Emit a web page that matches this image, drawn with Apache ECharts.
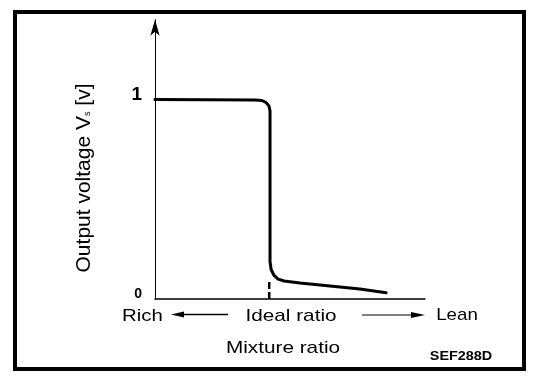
<!DOCTYPE html>
<html>
<head>
<meta charset="utf-8">
<script src="https://cdn.jsdelivr.net/npm/echarts@6/dist/echarts.min.js"></script>
<style>html,body{margin:0;padding:0;background:#fff;}#c{width:560px;height:380px;}</style>
</head>
<body>
<div id="c"></div>
<script>
// Mixture ratio (arbitrary 0..100 across axis) vs output voltage [V]
var curveX = [0, 37.0, 39.6, 41.1, 42.2, 42.6, 42.6, 43.0, 44.1, 45.6, 47.8, 53.7, 64.8, 75.9, 85.6];
var curveY = [1.0, 0.998, 0.995, 0.985, 0.968, 0.943, 0.188, 0.148, 0.118, 0.10, 0.09, 0.08, 0.065, 0.05, 0.031];
var idealX = [42.3, 42.3];
var idealY = [0, 0.095];
var yTicks = [0, 1];

var curve = curveX.map(function (x, i) { return [x, curveY[i]]; });
var ideal = idealX.map(function (x, i) { return [x, idealY[i]]; });
var FONT = '"Liberation Sans", Arial, sans-serif';

var chart = echarts.init(document.getElementById('c'), null, {renderer: 'canvas'});
chart.setOption({
  backgroundColor: '#fff',
  animation: false,
  grid: {left: 155, right: 135, top: 19.7, bottom: 81},
  xAxis: {
    type: 'value', min: 0, max: 100,
    axisLine: {show: true, lineStyle: {color: '#000', width: 1.5}},
    axisTick: {show: false}, axisLabel: {show: false}, splitLine: {show: false}
  },
  yAxis: {
    type: 'value', min: 0, max: 1.4, interval: 1,
    axisLine: {show: true, symbol: ['none', 'arrow'], symbolSize: [7, 16], lineStyle: {color: '#000', width: 1}},
    axisTick: {show: false}, splitLine: {show: false},
    axisLabel: {
      margin: 13, padding: [0, 0, 10, 0],
      formatter: function (v) {
        if (yTicks.indexOf(v) < 0) return '';
        return v === 1 ? '{a|1}' : '{b|0}';
      },
      rich: {
        a: {fontSize: 19, fontWeight: 'bold', fontFamily: FONT, color: '#000'},
        b: {fontSize: 14, fontWeight: 'bold', fontFamily: FONT, color: '#000'}
      }
    }
  },
  series: [
    {type: 'line', data: curve, showSymbol: false, smooth: false,
     lineStyle: {color: '#000', width: 3, join: 'round', cap: 'round'}},
    {type: 'line', data: ideal, showSymbol: false,
     lineStyle: {color: '#000', width: 2.5, type: [7, 3]}}
  ],
  graphic: [
    {type: 'rect', shape: {x: 15, y: 12, width: 509, height: 357},
     style: {stroke: '#000', lineWidth: 4, fill: null}},
    {type: 'text', x: 84, y: 178, rotation: Math.PI / 2,
     style: {text: 'Output voltage V{s|s} [v]', font: '21px ' + FONT, fill: '#000',
       textAlign: 'center', textVerticalAlign: 'middle',
       rich: {s: {fontSize: 9, fontFamily: FONT, fill: '#000', padding: [8, 0, 0, 0]}}}},
    {type: 'text', x: 142.5, y: 316, scaleX: 1.2,
     style: {text: 'Rich', font: '17px ' + FONT, fill: '#000', textAlign: 'center', textVerticalAlign: 'middle'}},
    {type: 'text', x: 291, y: 316, scaleX: 1.22,
     style: {text: 'Ideal ratio', font: '17px ' + FONT, fill: '#000', textAlign: 'center', textVerticalAlign: 'middle'}},
    {type: 'text', x: 457, y: 315, scaleX: 1.1,
     style: {text: 'Lean', font: '17px ' + FONT, fill: '#000', textAlign: 'center', textVerticalAlign: 'middle'}},
    {type: 'text', x: 283, y: 348, scaleX: 1.22,
     style: {text: 'Mixture ratio', font: '17px ' + FONT, fill: '#000', textAlign: 'center', textVerticalAlign: 'middle'}},
    {type: 'text', x: 461, y: 357, scaleX: 1.2,
     style: {text: 'SEF288D', font: 'bold 12px ' + FONT, fill: '#000', textAlign: 'center', textVerticalAlign: 'middle'}},
    // left arrow
    {type: 'line', shape: {x1: 180, y1: 314.5, x2: 228, y2: 314.5}, style: {stroke: '#000', lineWidth: 1.5}},
    {type: 'polygon', shape: {points: [[171, 314.5], [184, 311.5], [184, 317.5]]}, style: {fill: '#000'}},
    // right arrow
    {type: 'line', shape: {x1: 362, y1: 315, x2: 416, y2: 315}, style: {stroke: '#000', lineWidth: 1.2}},
    {type: 'polygon', shape: {points: [[425, 315], [411, 312], [411, 318]]}, style: {fill: '#000'}}
  ]
});
</script>
</body>
</html>
